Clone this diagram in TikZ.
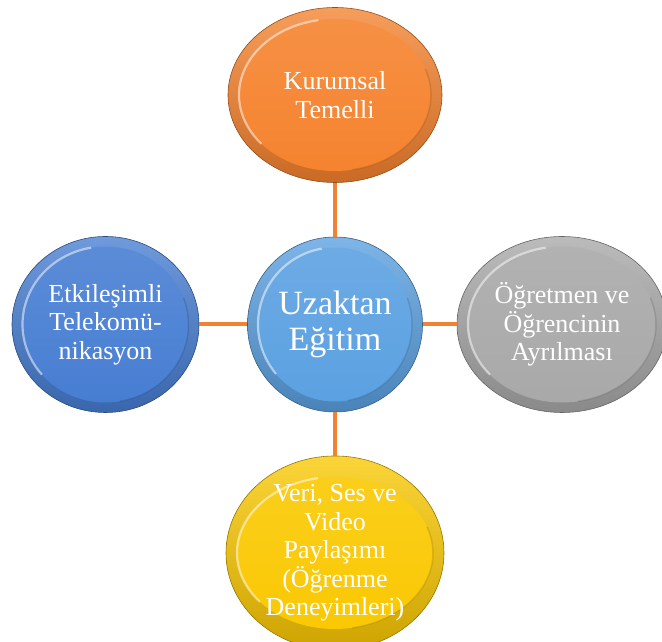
\documentclass[tikz,border=0pt]{standalone}
\usepackage{fontspec}
\setmainfont{Liberation Serif}
\usetikzlibrary{shapes.geometric}
\definecolor{orng}{HTML}{F5822D}
\definecolor{cblue}{HTML}{5AA0E1}
\definecolor{dblue}{HTML}{467DD2}
\definecolor{gry}{HTML}{A8A8A8}
\definecolor{gold}{HTML}{FAC800}
\definecolor{linecol}{HTML}{F08232}
\tikzset{
  bub/.style n args={5}{ellipse, minimum width=#2, minimum height=#3, inner sep=0pt,
    top color=#1!78!white, bottom color=#1!82!black, draw=#1!60!black, line width=0.6pt,
    text=white, align=center,
    path picture={
      \shade[top color=#1!88!white, bottom color=#1] (path picture bounding box.center) ellipse[x radius=#4, y radius=#5];
      \draw[white, opacity=.5, line width=2.2pt] ([shift={(100:#4 and #5)}]path picture bounding box.center) arc[start angle=100, end angle=220, x radius=#4, y radius=#5];
      \draw[#1!55!black, opacity=.25, line width=1.5pt] ([shift={(280:#4 and #5)}]path picture bounding box.center) arc[start angle=280, end angle=380, x radius=#4, y radius=#5];
    }},
  outertxt/.style={font=\fontsize{26}{28.6}\selectfont},
  centertxt/.style={font=\fontsize{34}{36}\selectfont},
  link/.style={draw=linecol, line width=4pt}
}
\begin{document}
\begin{tikzpicture}[x=1pt,y=1pt]
\useasboundingbox (0,0) rectangle (662,642);
\node[bub={orng}{214pt}{175pt}{96pt}{76pt}, outertxt] (T) at (335,547) {Kurumsal\\Temelli};
\node[bub={cblue}{175pt}{175pt}{77pt}{77pt}, centertxt] (C) at (335,317.5) {Uzaktan\\Eğitim};
\node[bub={dblue}{187pt}{176pt}{83pt}{78pt}, outertxt] (L) at (105.5,317.5) {Etkileşimli\\Telekomü-\\nikasyon};
\node[bub={gry}{210pt}{176pt}{94pt}{78pt}, outertxt] (R) at (562,317.5) {Öğretmen ve\\Öğrencinin\\Ayrılması};
\node[bub={gold}{218pt}{174pt}{98pt}{76pt}, outertxt] (B) at (335,89) {Veri, Ses ve\\Video\\Paylaşımı\\(Öğrenme\\Deneyimleri)};
\draw[link] (T) -- (C);
\draw[link] (C) -- (B);
\draw[link] (L) -- (C);
\draw[link] (C) -- (R);
\end{tikzpicture}
\end{document}
